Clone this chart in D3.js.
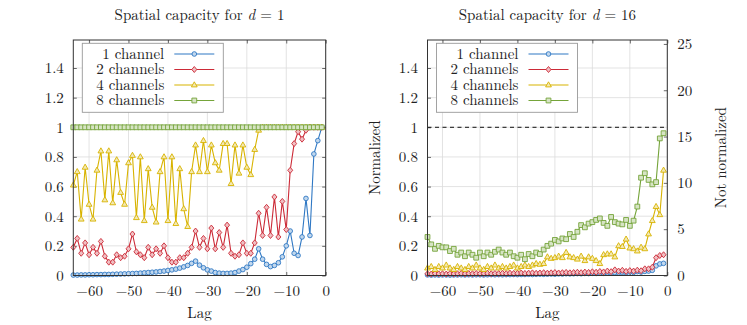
<!DOCTYPE html>
<html><head><meta charset="utf-8">
<script src="https://cdn.jsdelivr.net/npm/d3@7"></script>
<style>body{margin:0;background:#fff}</style>
</head><body>
<svg id="c" width="747" height="325"></svg>
<script>
// ---------- DATA ----------
const lags = [-64,-63,-62,-61,-60,-59,-58,-57,-56,-55,-54,-53,-52,-51,-50,-49,-48,-47,-46,-45,-44,-43,-42,-41,-40,-39,-38,-37,-36,-35,-34,-33,-32,-31,-30,-29,-28,-27,-26,-25,-24,-23,-22,-21,-20,-19,-18,-17,-16,-15,-14,-13,-12,-11,-10,-9,-8,-7,-6,-5,-4,-3,-2,-1];
const seriesNames = ["1 channel", "2 channels", "4 channels", "8 channels"];
const xTickValues = [-60, -50, -40, -30, -20, -10, 0];
const yTickValues = [0, 0.2, 0.4, 0.6, 0.8, 1, 1.2, 1.4];
const yRightTickValues = [0, 5, 10, 15, 20, 25];
const dValues = [1, 16];

// d = 1 (normalized)
const d1_ch1 = [0.003,0.003,0.004,0.004,0.005,0.005,0.006,0.006,0.007,0.007,
  0.008,0.009,0.010,0.011,0.012,0.013,0.014,0.016,0.018,0.020,
  0.022,0.024,0.027,0.030,0.034,0.038,0.043,0.050,0.058,0.068,
  0.082,0.097,0.070,0.052,0.038,0.030,0.020,0.016,0.014,0.014,
  0.016,0.020,0.030,0.040,0.056,0.080,0.110,0.180,0.110,0.075,
  0.060,0.068,0.086,0.126,0.200,0.300,0.150,0.135,0.260,0.520,
  0.270,0.820,0.910,1.000];
const d1_ch2 = [0.19,0.25,0.15,0.22,0.14,0.19,0.15,0.23,0.13,0.09,
  0.09,0.14,0.12,0.13,0.18,0.28,0.16,0.14,0.12,0.19,
  0.14,0.18,0.15,0.20,0.12,0.09,0.09,0.12,0.12,0.15,
  0.19,0.30,0.19,0.25,0.18,0.32,0.18,0.29,0.19,0.34,
  0.15,0.13,0.14,0.22,0.15,0.15,0.22,0.42,0.27,0.46,
  0.27,0.53,0.26,0.50,0.31,0.71,0.89,0.97,0.92,0.98,
  1,1,1,1];
const d1_ch4 = [0.61,0.70,0.38,0.73,0.48,0.38,0.71,0.84,0.51,0.84,
  0.49,0.78,0.56,0.48,0.76,0.81,0.39,0.80,0.37,0.72,
  0.46,0.36,0.70,0.80,0.37,0.80,0.35,0.72,0.45,0.33,
  0.70,0.88,0.70,0.91,0.70,0.88,0.76,0.71,0.89,0.89,
  0.62,0.88,0.69,0.88,0.73,0.68,0.85,0.98,1,1,
  1,1,1,1,1,1,1,1,1,1,
  1,1,1,1];
const d1_ch8 = [1,1,1,1,1,1,1,1,1,1,1,1,1,1,1,1,1,1,1,1,1,1,1,1,1,1,1,1,1,1,1,1,
  1,1,1,1,1,1,1,1,1,1,1,1,1,1,1,1,1,1,1,1,1,1,1,1,1,1,1,1,1,1,1,1];

// d = 16 (normalized)
const d16_ch1 = [0.004,0.003,0.004,0.003,0.004,0.004,0.003,0.004,0.004,0.005,
  0.004,0.005,0.004,0.005,0.005,0.004,0.005,0.006,0.005,0.006,
  0.005,0.006,0.006,0.007,0.006,0.007,0.007,0.008,0.007,0.008,
  0.009,0.008,0.009,0.010,0.009,0.011,0.010,0.012,0.011,0.012,
  0.013,0.012,0.014,0.013,0.015,0.014,0.016,0.015,0.018,0.016,
  0.020,0.018,0.022,0.019,0.024,0.021,0.026,0.023,0.028,0.030,
  0.035,0.065,0.078,0.082];
const d16_ch2 = [0.012,0.010,0.013,0.011,0.012,0.010,0.013,0.011,0.012,0.014,
  0.011,0.013,0.012,0.014,0.012,0.013,0.015,0.012,0.014,0.013,
  0.015,0.013,0.016,0.014,0.015,0.017,0.014,0.016,0.018,0.015,
  0.017,0.019,0.016,0.018,0.020,0.017,0.019,0.021,0.018,0.020,
  0.022,0.019,0.023,0.021,0.025,0.022,0.027,0.024,0.030,0.026,
  0.038,0.030,0.035,0.028,0.033,0.030,0.036,0.032,0.045,0.045,
  0.056,0.120,0.135,0.140];
const d16_ch4 = [0.05,0.06,0.04,0.06,0.05,0.07,0.05,0.04,0.06,0.05,
  0.04,0.06,0.05,0.07,0.05,0.04,0.06,0.05,0.07,0.05,
  0.06,0.05,0.06,0.07,0.05,0.06,0.07,0.06,0.07,0.08,
  0.075,0.08,0.125,0.115,0.12,0.13,0.12,0.155,0.125,0.12,
  0.11,0.13,0.10,0.125,0.115,0.10,0.08,0.14,0.145,0.145,
  0.125,0.20,0.195,0.245,0.185,0.18,0.165,0.19,0.18,0.28,
  0.37,0.465,0.41,0.71];
const d16_ch8 = [0.26,0.21,0.18,0.20,0.19,0.19,0.165,0.18,0.14,0.155,
  0.13,0.155,0.14,0.12,0.155,0.13,0.155,0.14,0.16,0.175,
  0.155,0.14,0.155,0.13,0.12,0.14,0.11,0.145,0.13,0.155,
  0.145,0.175,0.20,0.215,0.24,0.23,0.25,0.245,0.28,0.26,
  0.295,0.34,0.325,0.35,0.36,0.375,0.385,0.355,0.335,0.395,
  0.36,0.35,0.345,0.375,0.335,0.37,0.465,0.66,0.69,0.645,
  0.615,0.63,0.925,0.96];

// ---------- STYLE ----------
const FONT = '"Latin Modern Roman"';
const FS = 15;
const colors = ["#2f78c4", "#cc2a37", "#d8b300", "#75a43a"];
const markerShapes = ["circle", "diamond", "triangle", "square"];
const svg = d3.select("#c");

function markerPath(shape) {
  if (shape === "circle") return d3.symbol(d3.symbolCircle, 17)();
  if (shape === "diamond") return "M0,-3L2.5,0L0,3L-2.5,0Z";
  if (shape === "triangle") return "M0,-3.2L2.9,1.9L-2.9,1.9Z";
  return "M-2.4,-2.4H2.4V2.4H-2.4Z";
}

function panel(p) {
  const g = svg.append("g");
  const x = d3.scaleLinear().domain([-64, 0]).range([p.x0, p.x1]);
  const y = d3.scaleLinear().domain([0, 1.589]).range([275.5, 40]);

  // grid
  g.append("g").selectAll("line").data(xTickValues).join("line")
    .attr("x1", d => x(d)).attr("x2", d => x(d)).attr("y1", 40).attr("y2", 275.5)
    .attr("stroke", "#dcdcdc").attr("stroke-width", 0.8);
  g.append("g").selectAll("line").data(yTickValues).join("line")
    .attr("x1", p.x0).attr("x2", p.x1).attr("y1", d => y(d)).attr("y2", d => y(d))
    .attr("stroke", "#dcdcdc").attr("stroke-width", 0.8);

  // axes (inward ticks)
  const bottom = g.append("g").attr("transform", `translate(0,275.5)`)
    .call(d3.axisBottom(x).tickValues(xTickValues).tickSizeInner(-3.5).tickSizeOuter(0)
      .tickPadding(10).tickFormat(d => d < 0 ? "\u2212" + Math.abs(d) : d));
  const top = g.append("g").attr("transform", `translate(0,40)`)
    .call(d3.axisTop(x).tickValues(xTickValues).tickSizeInner(-3.5).tickSizeOuter(0).tickFormat(""));
  const left = g.append("g").attr("transform", `translate(${p.x0},0)`)
    .call(d3.axisLeft(y).tickValues(yTickValues).tickSizeInner(-3.5).tickSizeOuter(0)
      .tickPadding(9.5).tickFormat(d => d3.format("~g")(d)));
  let right;
  if (p.rightAxis) {
    const yr = d3.scaleLinear().domain([0, 1.589 * p.d]).range([275.5, 40]);
    right = g.append("g").attr("transform", `translate(${p.x1},0)`)
      .call(d3.axisRight(yr).tickValues(yRightTickValues).tickSizeInner(-3.5).tickSizeOuter(0).tickPadding(10));
  } else {
    right = g.append("g").attr("transform", `translate(${p.x1},0)`)
      .call(d3.axisRight(y).tickValues(yTickValues).tickSizeInner(-3.5).tickSizeOuter(0).tickFormat(""));
  }
  [bottom, top, left, right].forEach(a => {
    a.select(".domain").remove();
    a.selectAll(".tick line").attr("stroke", "#444").attr("stroke-width", 0.8);
    a.selectAll("text").attr("fill", "#222");
  });
  bottom.selectAll("text").attr("dy", "0.71em").attr("y", 10);

  // series lines
  const line = d3.line().x((d, i) => x(lags[i])).y(d => y(d));
  p.series.forEach((s, si) => {
    g.append("path").datum(s).attr("d", line).attr("fill", "none")
      .attr("stroke", colors[si]).attr("stroke-width", 1.1);
  });
  // dashed reference at normalized 1
  g.append("line").attr("x1", p.x0).attr("x2", p.x1).attr("y1", y(1)).attr("y2", y(1))
    .attr("stroke", "#111").attr("stroke-width", 1).attr("stroke-dasharray", "4,3.5");
  // markers
  p.series.forEach((s, si) => {
    const fill = d3.interpolateRgb(colors[si], "#ffffff")(0.7);
    g.append("g").selectAll("path").data(s).join("path")
      .attr("transform", (d, i) => `translate(${x(lags[i])},${y(d)})`)
      .attr("d", markerPath(markerShapes[si]))
      .attr("fill", fill).attr("stroke", colors[si]).attr("stroke-width", 0.9);
  });

  // frame
  g.append("rect").attr("x", p.x0).attr("y", 40).attr("width", p.x1 - p.x0).attr("height", 235.5)
    .attr("fill", "none").attr("stroke", "#333").attr("stroke-width", 1);

  // legend
  const lg = g.append("g");
  lg.append("rect").attr("x", p.x0 + 9).attr("y", 43.3).attr("width", 141).attr("height", 69)
    .attr("fill", "#fff").attr("stroke", "#999").attr("stroke-width", 0.9);
  const rows = [54, 69.5, 85, 100.5];
  seriesNames.forEach((n, i) => {
    lg.append("text").attr("x", p.x0 + 91).attr("y", rows[i]).attr("dy", "0.33em")
      .attr("text-anchor", "end").text(n);
    lg.append("line").attr("x1", p.x0 + 101).attr("x2", p.x0 + 141).attr("y1", rows[i]).attr("y2", rows[i])
      .attr("stroke", colors[i]).attr("stroke-width", 1.1);
    lg.append("path").attr("transform", `translate(${p.x0 + 121},${rows[i]})`)
      .attr("d", markerPath(markerShapes[i]))
      .attr("fill", d3.interpolateRgb(colors[i], "#ffffff")(0.7))
      .attr("stroke", colors[i]).attr("stroke-width", 0.9);
  });

  // title
  const cx = (p.x0 + p.x1) / 2;
  const t = g.append("text").attr("x", cx).attr("y", 20).attr("text-anchor", "middle");
  t.append("tspan").text("Spatial capacity for ");
  t.append("tspan").attr("font-style", "italic").text("d");
  t.append("tspan").text(" = " + p.d);

  // axis labels
  g.append("text").attr("x", cx).attr("y", 318).attr("text-anchor", "middle").text("Lag");
  if (p.leftLabel) {
    g.append("text").attr("transform", `translate(${p.x0 - 52},157.7) rotate(-90)`)
      .attr("text-anchor", "middle").attr("dy", "0.33em").text(p.leftLabel);
  }
  if (p.rightLabel) {
    g.append("text").attr("transform", `translate(${p.x1 + 54},157.7) rotate(-90)`)
      .attr("text-anchor", "middle").attr("dy", "0.33em").text(p.rightLabel);
  }
}

panel({x0: 73.3, x1: 325.7, d: dValues[0], series: [d1_ch1, d1_ch2, d1_ch4, d1_ch8]});
panel({x0: 427.5, x1: 667.3, d: dValues[1], series: [d16_ch1, d16_ch2, d16_ch4, d16_ch8],
  rightAxis: true, leftLabel: "Normalized", rightLabel: "Not normalized"});

svg.selectAll("g").attr("font-family", null).attr("font-size", null);
svg.selectAll("text").style("font-family", FONT).style("font-size", FS + "px").style("fill", "#222");
</script>
</body></html>
